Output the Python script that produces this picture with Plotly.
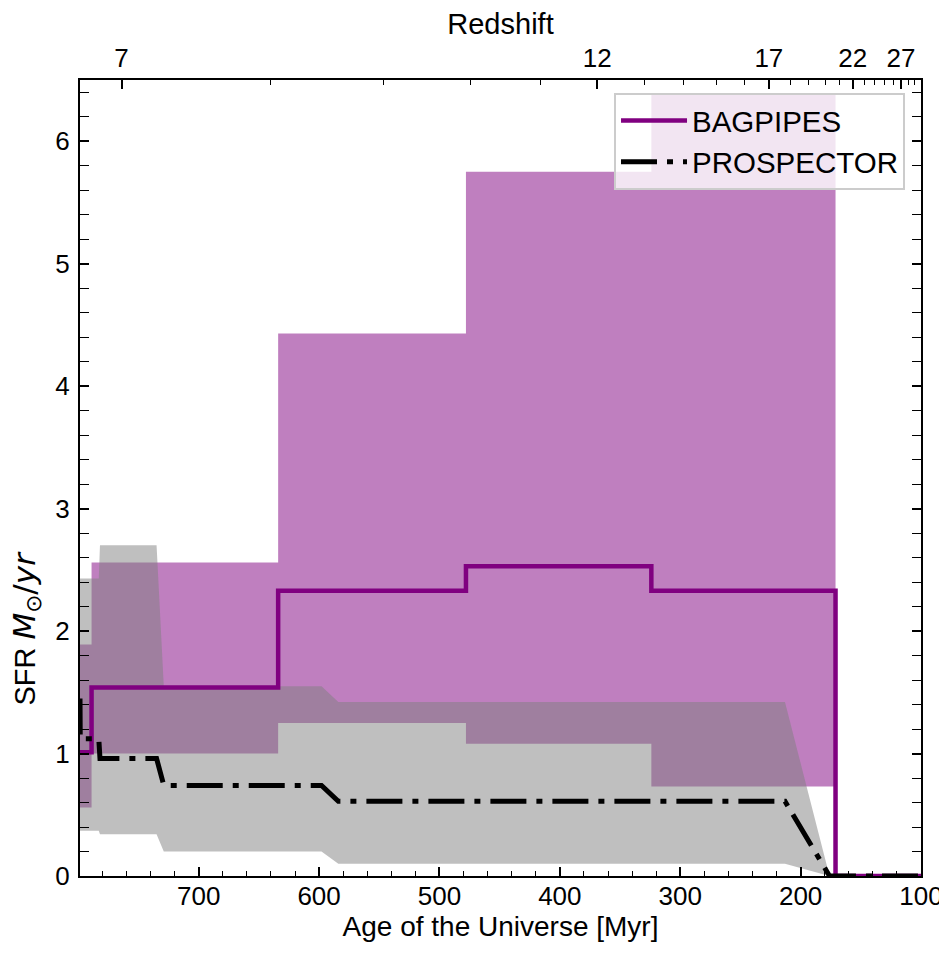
import plotly.graph_objects as go

# ---------------- data ----------------
# BAGPIPES: binned SFH (step), bin edges in age of the Universe [Myr]
bag_edges = [800, 789, 634, 478, 324, 171, 100]
bag_median = [1.01, 1.54, 2.33, 2.53, 2.33, 0.0]
bag_p16 = [0.56, 1.00, 1.25, 1.08, 0.73, 0.0]
bag_p84 = [1.89, 2.56, 4.43, 5.75, 6.38, 0.0]

# PROSPECTOR: piecewise-linear SFH
pro_age = [798.6, 798.4, 783, 782, 735, 729, 598, 584, 213, 176, 100]
pro_median = [1.45, 1.12, 1.12, 0.96, 0.96, 0.74, 0.74, 0.61, 0.61, 0.0, 0.0]
pro_p16 = [0.37, 0.37, 0.37, 0.34, 0.34, 0.20, 0.20, 0.10, 0.10, 0.0, 0.0]
pro_p84 = [2.43, 2.43, 2.43, 2.70, 2.70, 1.55, 1.55, 1.42, 1.42, 0.0, 0.0]

# axes
age_ticks = [700, 600, 500, 400, 300, 200, 100]
z_major = [7, 12, 17, 22, 27]
z_minor = list(range(7, 31))
y_ticks = [0, 1, 2, 3, 4, 5, 6]
x_range = [798.6, 100]
y_range = [0, 6.5]


def age_of_z(z):
    # high-redshift (matter dominated) age approximation, Myr
    return 17290.0 * (1.0 + z) ** -1.5


def step_xy(edges, vals):
    xs, ys = [], []
    for i, v in enumerate(vals):
        xs += [edges[i], edges[i + 1]]
        ys += [v, v]
    return xs, ys


FONT = "Liberation Sans, Arial, Helvetica, sans-serif"
PURPLE = "#800080"

fig = go.Figure()

# BAGPIPES 16-84 band
hx, hy = step_xy(bag_edges, bag_p84)
lx, ly = step_xy(bag_edges, bag_p16)
fig.add_trace(go.Scatter(
    x=hx + lx[::-1], y=hy + ly[::-1], mode="lines", fill="toself",
    fillcolor="rgba(128,0,128,0.5)", line=dict(width=0), showlegend=False,
    hoverinfo="skip"))

# PROSPECTOR 16-84 band
fig.add_trace(go.Scatter(
    x=pro_age + pro_age[::-1], y=pro_p84 + pro_p16[::-1], mode="lines",
    fill="toself", fillcolor="rgba(128,128,128,0.5)", line=dict(width=0),
    showlegend=False, hoverinfo="skip"))

# BAGPIPES median
fig.add_trace(go.Scatter(
    x=bag_edges, y=bag_median + [bag_median[-1]], mode="lines",
    line=dict(color=PURPLE, width=4.5, shape="hv"), name="BAGPIPES",
    legendgroup="a"))

# PROSPECTOR median
fig.add_trace(go.Scatter(
    x=pro_age, y=pro_median, mode="lines",
    line=dict(color="black", width=5, dash="36px,10px,6px,10px"),
    name="PROSPECTOR", legendgroup="b"))

# dummy trace for the top (redshift) axis
fig.add_trace(go.Scatter(x=x_range, y=[None, None], xaxis="x2", mode="lines",
                         showlegend=False, hoverinfo="skip"))

tick_common = dict(ticks="inside", tickcolor="black", tickwidth=1.6,
                   ticklen=9, showgrid=False, zeroline=False,
                   automargin=False, tickfont=dict(size=26))

fig.update_layout(
    width=939, height=949,
    margin=dict(l=72, r=26, t=72, b=81),
    plot_bgcolor="white", paper_bgcolor="white",
    font=dict(family=FONT, size=26, color="black"),
    xaxis=dict(
        range=x_range, tickmode="array", tickvals=age_ticks,
        showline=True, linecolor="black", linewidth=2, mirror=True,
        ticklabelstandoff=-4,
        minor=dict(tickmode="linear", tick0=0, dtick=20, ticks="inside",
                   ticklen=5, tickwidth=1.2, tickcolor="black"),
        title=dict(text="Age of the Universe [Myr]", standoff=2,
                   font=dict(size=28)),
        **tick_common),
    xaxis2=dict(
        overlaying="x", side="top", anchor="y", range=x_range,
        tickmode="array", tickvals=[age_of_z(z) for z in z_major],
        ticktext=[str(z) for z in z_major], showline=False,
        ticklabelstandoff=7,
        minor=dict(tickmode="array", tickvals=[age_of_z(z) for z in z_minor],
                   ticks="inside", ticklen=5, tickwidth=1.2,
                   tickcolor="black"),
        title=dict(text="Redshift", standoff=11, font=dict(size=29)),
        **tick_common),
    yaxis=dict(
        range=y_range, tickmode="array", tickvals=y_ticks,
        showline=True, linecolor="black", linewidth=2, mirror="allticks",
        ticklabelstandoff=3,
        minor=dict(tickmode="linear", tick0=0, dtick=0.2, ticks="inside",
                   ticklen=5, tickwidth=1.2, tickcolor="black"),
        **tick_common),
    legend=dict(
        x=0.981, y=0.984, xanchor="right", yanchor="top",
        bgcolor="rgba(255,255,255,0.8)", bordercolor="#cccccc",
        borderwidth=2, font=dict(size=29.5), tracegroupgap=0,
        traceorder="grouped", itemwidth=66),
    annotations=[dict(
        text=("SFR <span style='font-family:DejaVu Sans;font-size:31px'>"
              "<i>M</i><sub>⊙</sub>/<i>yr</i></span>"),
        textangle=-90,
        xref="paper", yref="paper", x=-0.064, y=0.311,
        xanchor="center", yanchor="middle", showarrow=False,
        font=dict(size=29))],
)

fig.write_html("out.html")
